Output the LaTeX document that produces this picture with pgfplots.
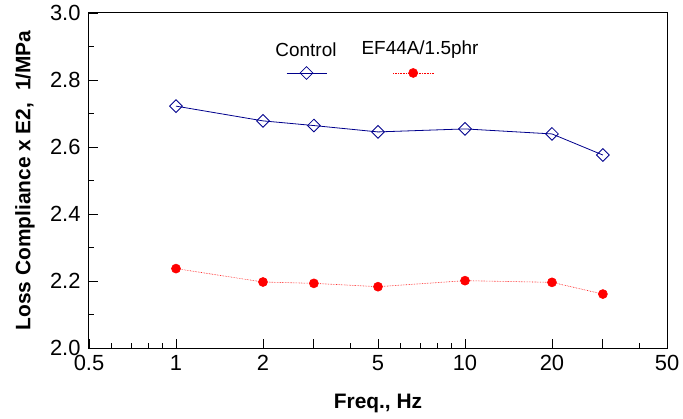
\documentclass[border=0pt]{standalone}
\usepackage{pgfplots}
\pgfplotsset{compat=1.18}
\usepackage{fontspec}
\setmainfont{Liberation Sans}
\definecolor{navy}{RGB}{0,0,140}
\definecolor{ptred}{RGB}{255,0,0}
\begin{document}
\begin{tikzpicture}
\begin{axis}[
  scale only axis, width=578bp, height=335bp,
  xmode=log, log basis x=10,
  xmin=0.5, xmax=50, ymin=2, ymax=3,
  xtick={0.5,1,2,5,10,20,50},
  xticklabels={0.5,1,2,5,10,20,50},
  minor xtick={0.6,0.7,0.8,0.9,4,6,7,8,9,40},
  extra x ticks={3,30}, extra x tick labels={},
  extra x tick style={major tick length=9bp},
  ytick={2,2.2,2.4,2.6,2.8,3},
  yticklabels={2.0,2.2,2.4,2.6,2.8,3.0},
  minor ytick={2.1,2.3,2.5,2.7,2.9},
  tick align=inside, tick pos=left,
  major tick length=9bp, minor tick length=5bp,
  tick style={black, line width=0.8bp},
  axis line style={black, line width=1bp},
  /pgf/number format/assume math mode=true,
  tick label style={font=\fontsize{22}{24}\selectfont},
  yticklabel style={xshift=-5bp},
  xticklabel style={yshift=-4bp},
  xlabel={\bfseries Freq., Hz},
  ylabel={\bfseries Loss Compliance x E2,\ \ 1/MPa},
  label style={font=\fontsize{21}{24}\selectfont},
  xlabel style={at={(axis description cs:0.5,0)}, anchor=center, yshift=-55bp},
  ylabel style={at={(axis description cs:0,0.5)}, anchor=center, yshift=64bp},
  legend image code/.code={\draw[mark repeat=2,mark phase=2] plot coordinates {(0bp,0bp) (20bp,0bp) (40bp,0bp)};},
  legend style={at={(rel axis cs:0.341,0.821)}, anchor=west, draw=none, fill=none,
    legend columns=2, column sep=0pt, row sep=0pt, inner sep=0pt, outer sep=0pt,
    nodes={inner sep=0pt, outer sep=0pt}},
]
\addplot[navy, line width=0.8bp, mark=square, mark size=4.5bp,
  mark options={rotate=45, solid, fill=white, line width=0.8bp}]
  coordinates {(1,2.722) (2,2.678) (3,2.664) (5,2.645) (10,2.654) (20,2.639) (30,2.576)};
\addlegendentry{\hspace*{66bp}}
\addplot[ptred, line width=0.6bp, densely dotted, mark=*, mark size=4.5bp,
  mark options={solid, fill=ptred, draw=ptred}]
  coordinates {(1,2.237) (2,2.197) (3,2.193) (5,2.183) (10,2.201) (20,2.196) (30,2.161)};
\addlegendentry{}
\node[font=\fontsize{19}{22}\selectfont] at (rel axis cs:0.3754,0.890) {Control};
\node[font=\fontsize{19}{22}\selectfont] at (rel axis cs:0.5727,0.890) {EF44A/1.5phr};
\coordinate (sw) at (rel axis cs:0,0);
\end{axis}
\pgfresetboundingbox
\path[use as bounding box] (sw) ++(-89bp,-71bp) rectangle ++(683bp,419bp);
\end{tikzpicture}
\end{document}
